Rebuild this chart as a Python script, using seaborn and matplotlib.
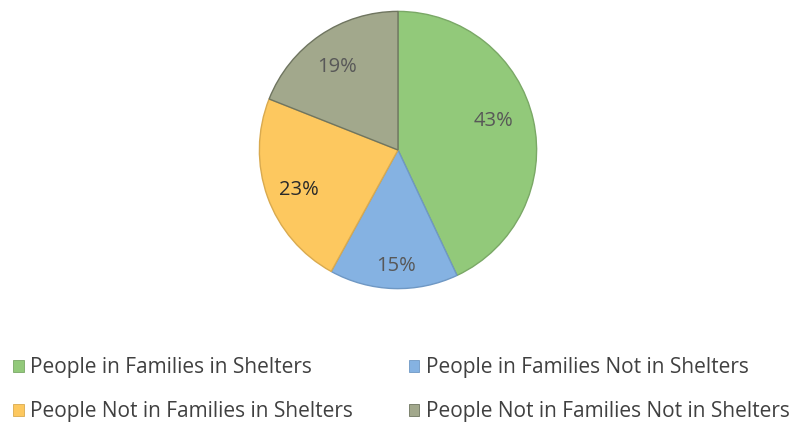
import matplotlib
matplotlib.use("Agg")
import matplotlib.pyplot as plt
import seaborn as sns
import numpy as np
from matplotlib.patches import Patch

categories = ["People in Families in Shelters",
              "People in Families Not in Shelters",
              "People Not in Families in Shelters",
              "People Not in Families Not in Shelters"]
values = [43, 15, 23, 19]
colors = ["#92c97a", "#85b2e2", "#fdc85f", "#a2a88c"]
edge_colors = ["#7aa866", "#6f98c4", "#d9aa4f", "#6f7560"]
label_dist = [0.72, 0.835, 0.77, 0.74]
label_angle_shift = [4.5, 1.0, 2.0, 2.0]

sns.set_theme(style="white")
plt.rcParams['font.family'] = ['Open Sans', 'DejaVu Sans']

fig = plt.figure(figsize=(7.96, 4.24), dpi=100)
R = 140
cx, cy = 398, 150
ax = fig.add_axes([(cx - R) / 796, (424 - cy - R) / 424, 2 * R / 796, 2 * R / 424])

wedges, texts, autotexts = ax.pie(values, colors=colors, startangle=90, counterclock=False,
                                  autopct=lambda p: f"{p:.0f}%", pctdistance=0.76,
                                  wedgeprops=dict(linewidth=1.0, edgecolor="#7a8070"),
                                  textprops=dict(fontsize=14.5, color="#585858"))
for w, ec, t, d, s in zip(wedges, edge_colors, autotexts, label_dist, label_angle_shift):
    w.set_edgecolor(ec)
    mid = np.deg2rad((w.theta1 + w.theta2) / 2 + s)
    t.set_position((d * np.cos(mid), d * np.sin(mid)))
autotexts[2].set_color("#2a2a2a")
ax.set_xlim(-1.01, 1.01)
ax.set_ylim(-1.01, 1.01)
ax.set_aspect("equal")
ax.axis("off")

order = [0, 2, 1, 3]
handles = [Patch(facecolor=colors[i], edgecolor=edge_colors[i], linewidth=0.6) for i in order]
labels = [categories[i] for i in order]
leg = fig.legend(handles, labels, ncol=2, loc="upper left", bbox_to_anchor=(0.006, 1 - 349 / 424),
                 frameon=False, fontsize=15, handlelength=0.5, handleheight=0.5,
                 handletextpad=0.3, columnspacing=2.7, labelspacing=1.1, borderaxespad=0)
for t in leg.get_texts():
    t.set_color("#404040")

fig.savefig("out.png", dpi=100, facecolor="white")
